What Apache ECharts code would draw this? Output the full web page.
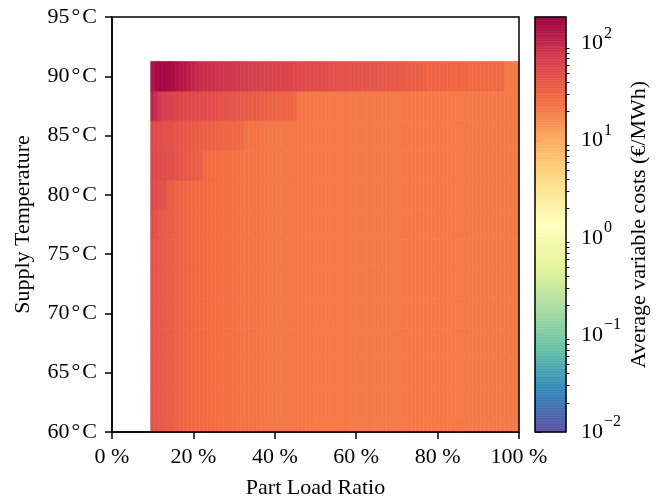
<!DOCTYPE html>
<html><head><meta charset="utf-8">
<script src="https://cdn.jsdelivr.net/npm/echarts@6/dist/echarts.min.js"></script>
<style>html,body{margin:0;padding:0;background:#fff}#c{width:661px;height:502px}</style>
</head><body><div id="c"></div>
<script>
// ---- data ----
const loads = [10,11,12,13,14,15,16,17,18,19,20,21,22,23,24,25,26,27,28,29,30,31,32,33,34,35,36,37,38,39,40,41,42,43,44,45,46,47,48,49,50,51,52,53,54,55,56,57,58,59,60,61,62,63,64,65,66,67,68,69,70,71,72,73,74,75,76,77,78,79,80,81,82,83,84,85,86,87,88,89,90,91,92,93,94,95,96,97,98,99,100];
const temps = [60,62.5,65,67.5,70,72.5,75,77.5,80,82.5,85,87.5,90];
const xTicks = [0,20,40,60,80,100];
const yTicks = [60,65,70,75,80,85,90,95];
const cbarExponents = [-2,-1,0,1,2];
const cbarMin = 0.01, cbarMax = 188;

const costT60   = [45,42,39.5,37.5,35.5,34,32.5,31.5,30.5,29.5, 29,28.5,28,27.5,27,26.5,26,25.5,25,25, 24.5,24.5,24,24,23.5,23.5,23.5,23,23,23, 23,22.5,22.5,22.5,22.5,22.5,22.5,22.5,22,22, 22,22,22,22,22,22,22,22,22,22, 22,22,22,22,22,21.5,21.5,21.5,21.5,21.5, 21.5,21.5,21.5,21.5,21.5,21.5,21.5,21.5,21.5,21.5, 21.5,21.5,21.5,21.5,21.5,21.5,21.5,21.5,21.5,21.5, 21.5,21.5,21.5,21.5,21.5,21.5,21.5,21.5,21.5,21.5,21.5];
const costT62_5 = [45,42,39.5,37.5,35.5,34,32.5,31.5,30.5,29.5, 29,28.5,28,27.5,27,26.5,26,25.5,25,25, 24.5,24.5,24,24,23.5,23.5,23.5,23,23,23, 23,22.5,22.5,22.5,22.5,22.5,22.5,22.5,22,22, 22,22,22,22,22,22,22,22,22,22, 22,22,22,22,22,21.5,21.5,21.5,21.5,21.5, 21.5,21.5,21.5,21.5,21.5,21.5,21.5,21.5,21.5,21.5, 21.5,21.5,21.5,21.5,21.5,21.5,21.5,21.5,21.5,21.5, 21.5,21.5,21.5,21.5,21.5,21.5,21.5,21.5,21.5,21.5,21.5];
const costT65   = [45,42,39.5,37.5,35.5,34,32.5,31.5,30.5,29.5, 29,28.5,28,27.5,27,26.5,26,25.5,25,25, 24.5,24.5,24,24,23.5,23.5,23.5,23,23,23, 23,22.5,22.5,22.5,22.5,22.5,22.5,22.5,22,22, 22,22,22,22,22,22,22,22,22,22, 22,22,22,22,22,21.5,21.5,21.5,21.5,21.5, 21.5,21.5,21.5,21.5,21.5,21.5,21.5,21.5,21.5,21.5, 21.5,21.5,21.5,21.5,21.5,21.5,21.5,21.5,21.5,21.5, 21.5,21.5,21.5,21.5,21.5,21.5,21.5,21.5,21.5,21.5,21.5];
const costT67_5 = [45,42,39.5,37.5,35.5,34,32.5,31.5,30.5,29.5, 29,28.5,28,27.5,27,26.5,26,25.5,25,25, 24.5,24.5,24,24,23.5,23.5,23.5,23,23,23, 23,22.5,22.5,22.5,22.5,22.5,22.5,22.5,22,22, 22,22,22,22,22,22,22,22,22,22, 22,22,22,22,22,21.5,21.5,21.5,21.5,21.5, 21.5,21.5,21.5,21.5,21.5,21.5,21.5,21.5,21.5,21.5, 21.5,21.5,21.5,21.5,21.5,21.5,21.5,21.5,21.5,21.5, 21.5,21.5,21.5,21.5,21.5,21.5,21.5,21.5,21.5,21.5,21.5];
const costT70   = [45,42,39.5,37.5,35.5,34,32.5,31.5,30.5,29.5, 29,28.5,28,27.5,27,26.5,26,25.5,25,25, 24.5,24.5,24,24,23.5,23.5,23.5,23,23,23, 23,22.5,22.5,22.5,22.5,22.5,22.5,22.5,22,22, 22,22,22,22,22,22,22,22,22,22, 22,22,22,22,22,21.5,21.5,21.5,21.5,21.5, 21.5,21.5,21.5,21.5,21.5,21.5,21.5,21.5,21.5,21.5, 21.5,21.5,21.5,21.5,21.5,21.5,21.5,21.5,21.5,21.5, 21.5,21.5,21.5,21.5,21.5,21.5,21.5,21.5,21.5,21.5,21.5];
const costT72_5 = [45,42,39.5,37.5,35.5,34,32.5,31.5,30.5,29.5, 29,28.5,28,27.5,27,26.5,26,25.5,25,25, 24.5,24.5,24,24,23.5,23.5,23.5,23,23,23, 23,22.5,22.5,22.5,22.5,22.5,22.5,22.5,22,22, 22,22,22,22,22,22,22,22,22,22, 22,22,22,22,22,21.5,21.5,21.5,21.5,21.5, 21.5,21.5,21.5,21.5,21.5,21.5,21.5,21.5,21.5,21.5, 21.5,21.5,21.5,21.5,21.5,21.5,21.5,21.5,21.5,21.5, 21.5,21.5,21.5,21.5,21.5,21.5,21.5,21.5,21.5,21.5,21.5];
const costT75   = [45,42,39.5,37.5,35.5,34,32.5,31.5,30.5,29.5, 29,28.5,28,27.5,27,26.5,26,25.5,25,25, 24.5,24.5,24,24,23.5,23.5,23.5,23,23,23, 23,22.5,22.5,22.5,22.5,22.5,22.5,22.5,22,22, 22,22,22,22,22,22,22,22,22,22, 22,22,22,22,22,21.5,21.5,21.5,21.5,21.5, 21.5,21.5,21.5,21.5,21.5,21.5,21.5,21.5,21.5,21.5, 21.5,21.5,21.5,21.5,21.5,21.5,21.5,21.5,21.5,21.5, 21.5,21.5,21.5,21.5,21.5,21.5,21.5,21.5,21.5,21.5,21.5];
const costT77_5 = [51,45,39.5,37.5,35.5,34,32.5,31.5,30.5,29.5, 29,28.5,28,27.5,27,26.5,26,25.5,25,25, 24.5,24.5,24,24,23.5,23.5,23.5,23,23,23, 23,22.5,22.5,22.5,22.5,22.5,22.5,22.5,22,22, 22,22,22,22,22,22,22,22,22,22, 22,22,22,22,22,21.5,21.5,21.5,21.5,21.5, 21.5,21.5,21.5,21.5,21.5,21.5,21.5,21.5,21.5,21.5, 21.5,21.5,21.5,21.5,21.5,21.5,21.5,21.5,21.5,21.5, 21.5,21.5,21.5,21.5,21.5,21.5,21.5,21.5,21.5,21.5,21.5];
const costT80   = [55,51,48,46,35.5,34,32.5,31.5,30.5,29.5, 29,28.5,28,27.5,27,26.5,26,25.5,25,25, 24.5,24.5,24,24,23.5,23.5,23.5,23,23,23, 23,22.5,22.5,22.5,22.5,22.5,22.5,22.5,22,22, 22,22,22,22,22,22,22,22,22,22, 22,22,22,22,22,21.5,21.5,21.5,21.5,21.5, 21.5,21.5,21.5,21.5,21.5,21.5,21.5,21.5,21.5,21.5, 21.5,21.5,21.5,21.5,21.5,21.5,21.5,21.5,21.5,21.5, 21.5,21.5,21.5,21.5,21.5,21.5,21.5,21.5,21.5,21.5,21.5];
const costT82_5 = [58,55,52,50,48,46,44,42,40,38.5, 37.5,36.5,35.5,27.5,27,26.5,26,25.5,25,25, 24.5,24.5,24,24,23.5,23.5,23.5,23,23,23, 23,22.5,22.5,22.5,22.5,22.5,22.5,22.5,22,22, 22,22,22,22,22,22,22,22,22,22, 22,22,22,22,22,21.5,21.5,21.5,21.5,21.5, 21.5,21.5,21.5,21.5,21.5,21.5,21.5,21.5,21.5,21.5, 21.5,21.5,21.5,21.5,21.5,21.5,21.5,21.5,21.5,21.5, 21.5,21.5,21.5,21.5,21.5,21.5,21.5,21.5,21.5,21.5,21.5];
const costT85   = [55,52,50,48,46,45,44,42,41,40, 38.5,37,36,35,34,33,32,31,30,29.5, 29,28.5,28,24,23.5,23.5,23.5,23,23,23, 23,22.5,22.5,22.5,22.5,22.5,22.5,22.5,22,22, 22,22,22,22,22,22,22,22,22,22, 22,22,22,22,22,21.5,21.5,21.5,21.5,21.5, 21.5,21.5,21.5,21.5,21.5,21.5,21.5,21.5,21.5,21.5, 21.5,21.5,21.5,21.5,21.5,21.5,21.5,21.5,21.5,21.5, 21.5,21.5,21.5,21.5,21.5,21.5,21.5,21.5,21.5,21.5,21.5];
const costT87_5 = [105,90,75,70,65,62,60,58,57,56, 55,54,52,51,50,49,48,47,45,44, 43,42,40,39,38,37,36,35,34,33, 32.5,32,31.5,31,30.5,30,22.5,22.5,22,22, 22,22,22,22,22,22,22,22,22,22, 22,22,22,22,22,21.5,21.5,21.5,21.5,21.5, 21.5,21.5,21.5,21.5,21.5,21.5,21.5,21.5,21.5,21.5, 21.5,21.5,21.5,21.5,21.5,21.5,21.5,21.5,21.5,21.5, 21.5,21.5,21.5,21.5,21.5,21.5,21.5,21.5,21.5,21.5,21.5];
const costT90   = [140,160,165,165,160,150,140,135,125,115, 105,98,94,90,88,85,83,82,80,79, 77,74,72,71,70,69,66,65,64,63, 62,61,60,59,58,57,56,55,54,53, 52,52,50,49,48,48,47,47,46,46, 45,45,44,44,43,43,42,41,41,40, 40,38,37,37,36,36,34,33,32,32, 31,31,30.5,30.5,30,30,29.5,29.5,29,29, 28.5,28.5,28,28,28,28,28,21.5,21.5,21.5,21.5];
const costRows = [costT60,costT62_5,costT65,costT67_5,costT70,costT72_5,costT75,costT77_5,costT80,costT82_5,costT85,costT87_5,costT90];

const spectralR = ['#5e4fa2','#3288bd','#66c2a5','#abdda4','#e6f598','#ffffbf','#fee08b','#fdae61','#f46d43','#d53e4f','#9e0142'];

// ---- build ----
function edges(c){
  const e=[c[0]-(c[1]-c[0])/2];
  for(let i=1;i<c.length;i++) e.push((c[i-1]+c[i])/2);
  e.push(c[c.length-1]+(c[c.length-1]-c[c.length-2])/2);
  return e;
}
const xe = edges(loads), ye = edges(temps);
const cells = [];
costRows.forEach((row,i)=>row.forEach((v,j)=>{
  cells.push([xe[j],xe[j+1],ye[i],ye[i+1],Math.log10(v),v]);
}));
const lmin = Math.log10(cbarMin), lmax = Math.log10(cbarMax);
const N = 256, cbar = [];
for(let k=0;k<N;k++){
  const lo = lmin+(lmax-lmin)*k/N, hi = lmin+(lmax-lmin)*(k+1)/N;
  cbar.push([0,1,lo,hi,(lo+hi)/2]);
}
const minorTicks = [];
cbarExponents.forEach(e=>{for(let m=2;m<=9;m++){const t=e+Math.log10(m); if(t<=lmax) minorTicks.push(t);}});

function renderRect(params, api){
  const p0 = api.coord([api.value(0), api.value(3)]);
  const p1 = api.coord([api.value(1), api.value(2)]);
  const cs = params.coordSys;
  const shape = echarts.graphic.clipRectByRect(
    {x:p0[0], y:p0[1], width:p1[0]-p0[0], height:p1[1]-p0[1]},
    {x:cs.x, y:cs.y, width:cs.width, height:cs.height});
  if(!shape) return;
  const c = api.visual('color');
  return {type:'rect', shape:shape, style:{fill:c, stroke:c, lineWidth:0.6}};
}

const FONT = 'Liberation Serif';
const chart = echarts.init(document.getElementById('c'), null, {renderer:'canvas'});
chart.setOption({
  animation:false,
  backgroundColor:'#fff',
  textStyle:{fontFamily:FONT, color:'#000'},
  grid:[
    {left:112, top:17, width:407, height:415, show:true, z:5, borderColor:'#000', borderWidth:1.5,
     backgroundColor:'transparent', containLabel:false, outerBoundsMode:'none'},
    {left:535, top:17, width:31, height:415, show:true, z:5, borderColor:'#000', borderWidth:1.5,
     backgroundColor:'transparent', containLabel:false, outerBoundsMode:'none'}
  ],
  xAxis:[
    {gridIndex:0, type:'value', min:0, max:100, interval:20,
     axisLine:{show:true, onZero:false, lineStyle:{color:'#000', width:1.5}},
     axisTick:{show:true, length:7, lineStyle:{color:'#000', width:1.5}},
     axisLabel:{fontSize:22, fontFamily:FONT, color:'#000', margin:14, formatter:'{value} %'},
     splitLine:{show:false},
     name:'Part Load Ratio', nameLocation:'middle', nameGap:45,
     nameTextStyle:{fontSize:22, fontFamily:FONT, color:'#000'}},
    {gridIndex:1, type:'value', min:0, max:1, show:false}
  ],
  yAxis:[
    {gridIndex:0, type:'value', min:60, max:95, interval:5,
     axisLine:{show:true, onZero:false, lineStyle:{color:'#000', width:1.5}},
     axisTick:{show:true, length:7, lineStyle:{color:'#000', width:1.5}},
     axisLabel:{margin:15,
       formatter:function(v){return '{n|'+v+'}{d|°}{n|C}';},
       rich:{
         n:{fontSize:22, fontFamily:FONT, color:'#000'},
         d:{fontSize:22, fontFamily:FONT, color:'#000', padding:[0,2,0,2]}
       }},
     splitLine:{show:false},
     name:'Supply Temperature', nameLocation:'middle', nameGap:78, nameRotate:90,
     nameTextStyle:{fontSize:22, fontFamily:FONT, color:'#000'}},
    {gridIndex:1, type:'value', min:lmin, max:lmax, position:'right',
     axisLine:{show:false},
     axisTick:{show:true, length:7, customValues:cbarExponents, lineStyle:{color:'#000', width:1.5}},
     axisLabel:{show:true, margin:15, customValues:cbarExponents,
       formatter:function(v){const e=Math.round(v); return '{b|10}{s|'+(e<0?'\u2212'+(-e):e)+'}';},
       rich:{
         b:{fontSize:22, fontFamily:FONT, color:'#000', lineHeight:22},
         s:{fontSize:16, fontFamily:FONT, color:'#000', lineHeight:16, padding:[0,0,20,1]}
       }},
     splitLine:{show:false},
     name:'Average variable costs (€/MWh)', nameLocation:'middle', nameGap:62, nameRotate:90,
     nameTextStyle:{fontSize:22, fontFamily:FONT, color:'#000'}},
    {gridIndex:1, type:'value', min:lmin, max:lmax, position:'right',
     axisLine:{show:false},
     axisTick:{show:true, length:3.5, customValues:minorTicks, lineStyle:{color:'#000', width:1}},
     axisLabel:{show:false}, splitLine:{show:false}}
  ],
  visualMap:{type:'continuous', show:false, min:lmin, max:lmax, dimension:4, seriesIndex:[0,1],
    inRange:{color:spectralR}},
  series:[
    {type:'custom', xAxisIndex:0, yAxisIndex:0, renderItem:renderRect, data:cells,
     encode:{x:[0,1], y:[2,3]}, silent:true},
    {type:'custom', xAxisIndex:1, yAxisIndex:1, renderItem:renderRect, data:cbar,
     encode:{x:[0,1], y:[2,3]}, silent:true}
  ]
});
</script></body></html>
